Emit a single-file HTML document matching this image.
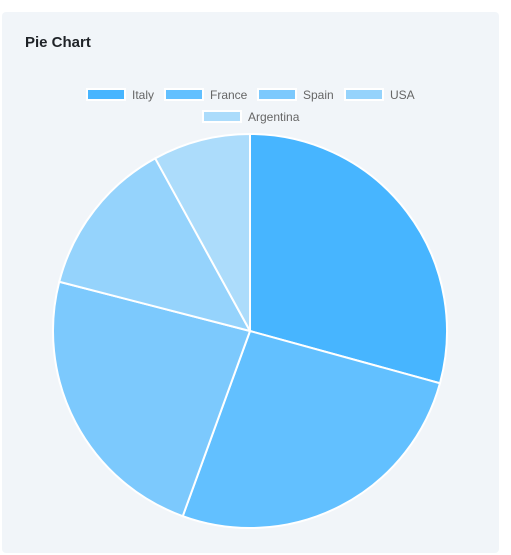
<!DOCTYPE html>
<html><head><meta charset="utf-8"><style>
body{margin:0;background:#fff;width:511px;height:555px;overflow:hidden;font-family:"Liberation Sans",Arial,sans-serif}
#card{position:absolute;left:2px;top:12px;width:497px;height:541px;background:#f1f5f9;border-radius:4px}
#title{position:absolute;left:23px;top:22px;font-size:15px;font-weight:bold;color:#1f2328;margin:0}
svg{position:absolute;left:0;top:0}
</style></head><body>
<div id="card">
<h3 id="title">Pie Chart</h3>
</div>
<svg id="chart" width="511" height="555"></svg>
<script>
const categories=["Italy","France","Spain","USA","Argentina"];
const values=[29.3,26.3,23.5,13.0,8.0];
const colors=["#47b5ff","#62c0ff","#7cc9fd","#95d3fc","#acdcfb"];
const NS="http://www.w3.org/2000/svg";
const svg=document.getElementById('chart');
const cx=250,cy=331,r=197;
const total=values.reduce((a,b)=>a+b,0);
let a0=0;
values.forEach((v,i)=>{
  const a1=a0+v/total*2*Math.PI;
  const x0=cx+r*Math.sin(a0),y0=cy-r*Math.cos(a0);
  const x1=cx+r*Math.sin(a1),y1=cy-r*Math.cos(a1);
  const large=(a1-a0)>Math.PI?1:0;
  const p=document.createElementNS(NS,'path');
  p.setAttribute('d',`M${cx},${cy}L${x0},${y0}A${r},${r} 0 ${large} 1 ${x1},${y1}Z`);
  p.setAttribute('fill',colors[i]);p.setAttribute('stroke','#fff');p.setAttribute('stroke-width','2');
  
  
  svg.appendChild(p);
  a0=a1;
});
const legendPos=[[86,89],[164,89],[257,89],[344,89],[202,111]];
categories.forEach((c,i)=>{
  const g=document.createElementNS(NS,'g');
  
  
  const [x,y]=legendPos[i];
  const rc=document.createElementNS(NS,'rect');
  rc.setAttribute('x',x+1);rc.setAttribute('y',y);rc.setAttribute('width',38);rc.setAttribute('height',11);
  rc.setAttribute('fill',colors[i]);rc.setAttribute('stroke','#fff');rc.setAttribute('stroke-width','2');
  g.appendChild(rc);
  const t=document.createElementNS(NS,'text');
  t.setAttribute('x',x+46);t.setAttribute('y',y+10);t.setAttribute('font-size','12');t.setAttribute('fill','#666');
  t.textContent=c;g.appendChild(t);
  svg.appendChild(g);
});
</script>
</body></html>
